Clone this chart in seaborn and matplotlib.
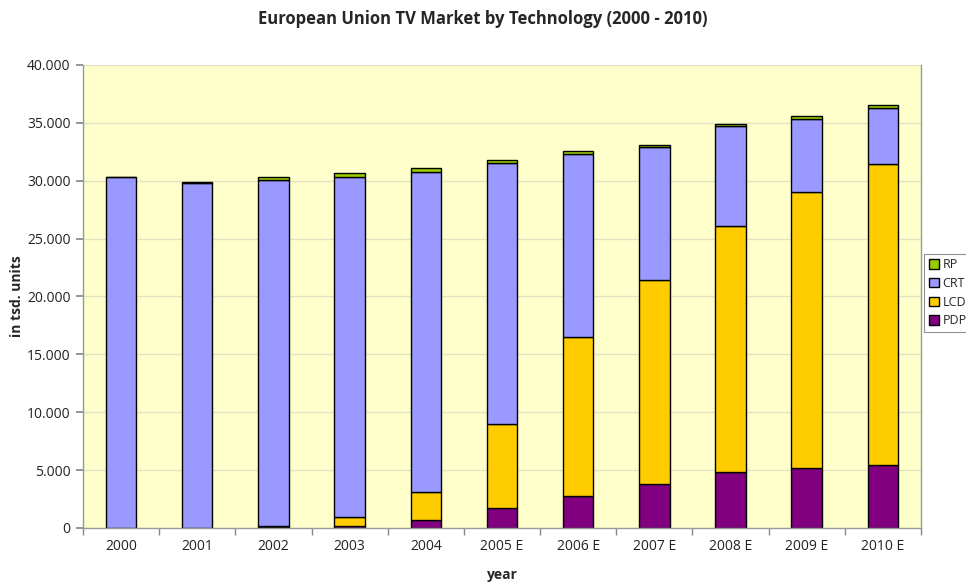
import matplotlib
matplotlib.use("Agg")
import matplotlib.pyplot as plt
from matplotlib.ticker import FuncFormatter, FixedLocator
from matplotlib.patches import Patch
import numpy as np
import pandas as pd
import seaborn as sns

# EU TV sales by display technology, thousand units
years = ["2000", "2001", "2002", "2003", "2004", "2005 E", "2006 E",
         "2007 E", "2008 E", "2009 E", "2010 E"]
pdp = [0, 0, 100, 200, 670, 1700, 2790, 3830, 4820, 5210, 5450]
lcd = [0, 0, 50, 750, 2420, 7290, 13750, 17610, 21230, 23780, 25960]
crt = [30300, 29800, 29900, 29370, 27690, 22540, 15730, 11470, 8640, 6340, 4900]
rp = [20, 50, 270, 370, 340, 280, 260, 200, 240, 230, 260]

series_names = ["PDP", "LCD", "CRT", "RP"]
series_colors = {"PDP": "#800080", "LCD": "#FFCC00", "CRT": "#9999FF", "RP": "#99CC00"}

df = pd.DataFrame({"year": years, "PDP": pdp, "LCD": lcd, "CRT": crt, "RP": rp})

sns.set_theme(style="white")
plt.rcParams["font.family"] = ["Open Sans", "DejaVu Sans"]

fig = plt.figure(figsize=(9.66, 5.84), dpi=100)
ax = fig.add_axes([0.0859, 0.0959, 0.8675, 0.7928])
ax.set_facecolor("#FFFFCC")

bottom = np.zeros(len(years))
for name in series_names:
    sns.barplot(data=df, x="year", y=name, order=years, color=series_colors[name],
                bottom=bottom, width=0.4, edgecolor="black", linewidth=1.0,
                saturation=1, ax=ax)
    bottom = bottom + df[name].to_numpy()

ax.set_ylim(0, 40000)
ax.set_xlim(-0.5, len(years) - 0.5)
ax.yaxis.set_major_locator(FixedLocator(np.arange(0, 40001, 5000)))
ax.yaxis.set_major_formatter(FuncFormatter(lambda v, p: f"{int(v):,}".replace(",", ".")))
ax.grid(axis="y", color="#E2E2C0", linewidth=1.0)
ax.set_axisbelow(True)

# category ticks sit between the bars
ax.set_xticks(np.arange(-0.5, len(years), 1.0), minor=True)
ax.tick_params(axis="x", which="major", length=0, pad=8, labelsize=10, colors="#222222")
ax.tick_params(axis="x", which="minor", length=5, color="#888888", bottom=True)
ax.tick_params(axis="y", which="major", length=5, color="#888888", left=True,
               labelsize=10, colors="#222222", pad=4)

for side in ["left", "bottom", "right", "top"]:
    ax.spines[side].set_color("#999999")
    ax.spines[side].set_linewidth(1.0)
ax.spines["top"].set_visible(False)

ax.set_xlabel("year", fontsize=10, fontweight="bold", labelpad=10)
ax.set_ylabel("in tsd. units", fontsize=10, fontweight="bold", labelpad=2)

fig.text(0.5, 0.968, "European Union TV Market by Technology (2000 - 2010)",
         ha="center", va="center", fontsize=12, fontweight="bold")

handles = [Patch(facecolor=series_colors[n], edgecolor="black", linewidth=1.0, label=n)
           for n in reversed(series_names)]
leg = fig.legend(handles=handles, loc="upper left", bbox_to_anchor=(0.957, 0.565),
                 frameon=True, fancybox=False, fontsize=9, handlelength=0.8,
                 handleheight=0.8, handletextpad=0.3, labelspacing=0.45,
                 borderpad=0.35, borderaxespad=0)
leg.get_frame().set_edgecolor("#777777")
leg.get_frame().set_linewidth(0.8)

fig.savefig("out.png", dpi=100, facecolor="white")
